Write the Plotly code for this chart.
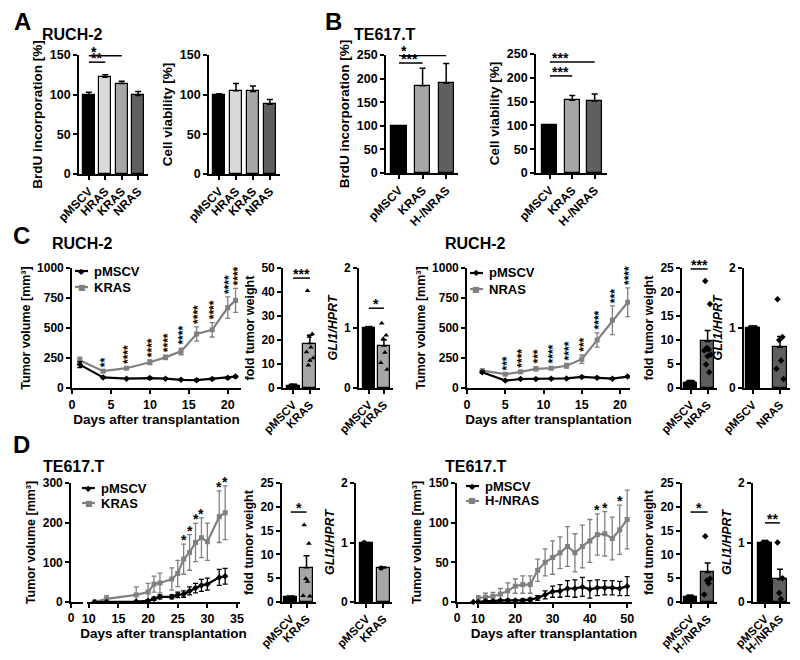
import plotly.graph_objects as go

FONT = "Arial, Liberation Sans, Helvetica, sans-serif"
W, H = 800, 660

# ---------------- data ----------------
ruch_cats = ["pMSCV", "HRAS", "KRAS", "NRAS"]
a_brdu = [100, 122, 114, 99]
a_brdu_err = [3, 3, 3, 5]
a_via = [100, 105, 104, 88]
a_via_err = [1, 9, 7, 6]

te_cats = ["pMSCV", "KRAS", "H-/NRAS"]
b_brdu = [100, 185, 190]
b_brdu_err = [0, 37, 42]
b_via = [100, 153, 151]
b_via_err = [0, 10, 15]

# C: RUCH-2 KRAS
ck_days = [1, 4, 7, 10, 12, 14, 16, 18, 20, 21]
ck_pmscv = [195, 88, 78, 83, 78, 68, 65, 75, 85, 95]
ck_pmscv_err = [25, 8, 6, 8, 6, 5, 8, 8, 8, 8]
ck_kras = [232, 140, 165, 215, 255, 305, 450, 485, 670, 730]
ck_kras_err = [25, 10, 10, 20, 18, 28, 60, 60, 90, 100]
ck_stars = ["", "**", "****", "****", "****", "****", "****", "****", "****", "****"]
ck_cats = ["pMSCV", "KRAS"]
ck_weight = [1.0, 18.5]
ck_weight_err = [0.1, 3.5]
ck_weight_pts = [40.5, 22.5, 21.5, 17, 15, 12.5, 11.5, 9.5]
ck_gli = [1.0, 0.70]
ck_gli_err = [0.01, 0.10]
ck_gli_pts = [1.08, 0.88, 0.82, 0.59, 0.42, 0.31]

# C: RUCH-2 NRAS
cn_days = [2, 5, 7, 9, 11, 13, 15, 17, 19, 21]
cn_pmscv = [132, 62, 75, 75, 78, 80, 92, 85, 78, 95]
cn_pmscv_err = [8, 5, 5, 5, 5, 5, 6, 6, 6, 6]
cn_nras = [145, 115, 135, 160, 165, 185, 240, 400, 565, 715]
cn_nras_err = [8, 8, 10, 18, 12, 20, 35, 60, 120, 120]
cn_stars = ["", "***", "****", "***", "****", "****", "***", "****", "***", "****"]
cn_cats = ["pMSCV", "NRAS"]
cn_weight = [1.1, 9.7]
cn_weight_err = [0.1, 2.3]
cn_weight_pts = [22.3, 17.5, 8.4, 8.0, 7.8, 7.0, 6.6, 4.9, 3.3]
cn_gli = [1.0, 0.68]
cn_gli_err = [0.01, 0.18]
cn_gli_pts = [1.48, 0.85, 0.80, 0.46, 0.32, 0.15]

# D: TE617.T KRAS
dk_days = [11, 13, 18, 20, 21, 22, 24, 25, 26, 27, 28, 29, 30, 32, 33]
dk_pmscv = [0, 0, 1, 3, 8, 13, 13, 18, 20, 28, 35, 42, 45, 62, 65]
dk_pmscv_err = [0, 0, 1, 3, 4, 5, 5, 7, 8, 10, 12, 15, 15, 20, 20]
dk_kras = [0, 8, 18, 25, 45, 48, 58, 72, 108, 125, 150, 162, 152, 215, 225]
dk_kras_err = [0, 8, 20, 22, 20, 25, 28, 33, 38, 45, 48, 50, 47, 65, 68]
dk_stars = ["", "", "", "", "", "", "", "", "*", "*", "*", "*", "", "*", "*"]
dk_cats = ["pMSCV", "KRAS"]
dk_weight = [1.0, 7.2]
dk_weight_err = [0.1, 2.5]
dk_weight_pts = [16.2, 12.3, 4.9, 4.3, 1.3, 1.2]
dk_gli = [1.0, 0.57]
dk_gli_err = [0.0, 0.02]
dk_gli_pts = [0.57]

# D: TE617.T H-/NRAS
dn_stub_days = [8]
dn_stub_pmscv = [0]
dn_days = [10, 12, 14, 16, 18, 20, 22, 24, 26, 28, 30, 32, 34, 36, 38, 40, 42, 44, 46, 48, 50]
dn_pmscv = [0, 1, 1, 2, 2, 2, 2, 3, 5, 9, 13, 14, 17, 17, 19, 16, 18, 18, 18, 17, 20]
dn_pmscv_err = [0, 1, 1, 1, 1, 1, 2, 2, 3, 5, 7, 8, 10, 11, 12, 11, 10, 9, 9, 9, 12]
dn_nras = [5, 6, 7, 10, 14, 20, 22, 22, 40, 50, 56, 62, 70, 62, 70, 77, 85, 86, 80, 91, 104]
dn_nras_err = [3, 5, 5, 7, 10, 9, 11, 11, 14, 17, 21, 20, 25, 24, 27, 27, 26, 28, 27, 31, 37]
dn_stars = [""] * 16 + ["*", "*", "", "*", ""]
dn_cats = ["pMSCV", "H-/NRAS"]
dn_weight = [1.0, 6.2]
dn_weight_err = [0.1, 2.0]
dn_weight_pts = [13.8, 4.9, 4.5, 3.9, 1.6]
dn_gli = [1.0, 0.38]
dn_gli_err = [0.0, 0.17]
dn_gli_pts = [1.0, 0.40, 0.15, 0.05]

BLACK = "#000000"
LIGHT = "#d9d9d9"
MID = "#a6a6a6"
DARK = "#5f5f5f"
LINEGRAY = "#808080"

fig = go.Figure()


def sid(n):
    return "" if n == 1 else str(n)


def tfont(size=11.5, **kw):
    return dict(family=FONT, size=size, color="black", weight="bold", **kw)


AX = dict(showline=True, linecolor="black", linewidth=1.6, ticks="outside", ticklen=4,
          tickwidth=1.6, tickcolor="black", showgrid=False, zeroline=False, fixedrange=True,
          automargin=False)


def set_axes(n, xpx, ypx, xr, yr, ytick, xtick=None, xtext=None, xangle=0, ytitle=None,
             xtitle=None, yanchor=None, tsize=11.5, xsize=11.5, ysize=12.5, ystand=4):
    s = sid(n)
    xa = dict(AX, domain=[xpx[0] / W, xpx[1] / W], range=xr, anchor="y" + s,
              tickangle=xangle, tickfont=tfont(xsize))
    if xtick is not None:
        xa.update(tickvals=xtick)
    if xtext is not None:
        xa.update(ticktext=xtext)
    if xtitle:
        xa.update(title=dict(text=xtitle, font=tfont(13.5), standoff=2))
    ya = dict(AX, domain=[1 - ypx[1] / H, 1 - ypx[0] / H], range=yr, tickvals=ytick,
              anchor=yanchor or ("x" + s), tickfont=tfont(tsize))
    if ytitle:
        ya.update(title=dict(text=ytitle, font=tfont(ysize), standoff=ystand))
    fig.update_layout({"xaxis" + s: xa, "yaxis" + s: ya})


def stub_axis(n, main, xpx, xr):
    fig.update_layout({"xaxis" + sid(n): dict(AX, domain=[xpx[0] / W, xpx[1] / W], range=xr,
                                              anchor="y" + sid(main), tickvals=[0],
                                              tickfont=tfont(12))})


def bar_panel(n, cats, vals, errs, colors, width, pts=None, symbol="triangle-up", ctrl=False):
    s = sid(n)
    xs = list(range(len(cats)))
    fig.add_trace(go.Bar(x=xs, y=vals, width=width,
                         marker=dict(color=colors, line=dict(color="black", width=1.2)),
                         error_y=dict(type="data", symmetric=False, array=errs,
                                      arrayminus=[0] * len(errs), color="black",
                                      thickness=1.5, width=3),
                         xaxis="x" + s, yaxis="y" + s, showlegend=False, hoverinfo="skip"))
    if pts:
        spread = [-0.14, 0.14, -0.04, 0.06, -0.2, 0.2, 0.0, -0.09, 0.1]
        px_ = [1 + spread[k % len(spread)] * width * 1.3 for k in range(len(pts))]
        fig.add_trace(go.Scatter(x=px_, y=pts, mode="markers",
                                 marker=dict(symbol=symbol, size=5, color="black"),
                                 xaxis="x" + s, yaxis="y" + s, showlegend=False,
                                 hoverinfo="skip"))
        if ctrl:
            cx = [spread[k % len(spread)] * width * 1.2 for k in range(len(pts))]
            fig.add_trace(go.Scatter(x=cx, y=[vals[0]] * len(pts), mode="markers",
                                     marker=dict(symbol=symbol, size=5, color="black"),
                                     xaxis="x" + s, yaxis="y" + s, showlegend=False,
                                     hoverinfo="skip"))


def sig(n, i0, i1, level, text, align="center", size=14):
    s = sid(n)
    fig.add_shape(type="line", xref="x" + s, yref="y" + s, x0=i0, x1=i1, y0=level, y1=level,
                  line=dict(color="black", width=1.5))
    if align == "left":
        fig.add_annotation(x=i0, y=level, xref="x" + s, yref="y" + s, text=text,
                           showarrow=False, xanchor="left", yanchor="bottom", yshift=-6,
                           font=tfont(size))
    else:
        fig.add_annotation(x=(i0 + i1) / 2, y=level, xref="x" + s, yref="y" + s, text=text,
                           showarrow=False, xanchor="center", yanchor="bottom", yshift=-6,
                           font=tfont(size))


def line_panel(n, days, series, stars, ref, rotate=True):
    s = sid(n)
    for name, y, e, color, sym in series:
        fig.add_trace(go.Scatter(x=days, y=y, mode="lines+markers", name=name,
                                 line=dict(color=color, width=2.2),
                                 marker=dict(color=color, size=5, symbol=sym),
                                 error_y=dict(type="data", array=e, color=color,
                                              thickness=1.3, width=2.5),
                                 xaxis="x" + s, yaxis="y" + s, showlegend=False,
                                 hoverinfo="skip"))
    y, e = ref
    for d, v, err, st in zip(days, y, e, stars):
        if not st:
            continue
        if rotate:
            fig.add_annotation(x=d, y=v + err, xref="x" + s, yref="y" + s, text=st,
                               textangle=-90, showarrow=False, xanchor="center",
                               yanchor="bottom", yshift=1, xshift=2, font=tfont(12))
        else:
            fig.add_annotation(x=d, y=v + err, xref="x" + s, yref="y" + s, text=st,
                               showarrow=False, xanchor="center", yanchor="bottom",
                               yshift=-6, font=tfont(14))


def legend(xpx, ypx, entries, step=16):
    for k, (name, color, glyph) in enumerate(entries):
        yy = 1 - (ypx + k * step) / H
        fig.add_shape(type="line", xref="paper", yref="paper", x0=xpx / W,
                      x1=(xpx + 13) / W, y0=yy, y1=yy, line=dict(color=color, width=2.2))
        fig.add_annotation(xref="paper", yref="paper", x=(xpx + 6.5) / W, y=yy, text=glyph,
                           showarrow=False, xanchor="center", yanchor="middle",
                           font=dict(family="DejaVu Sans", size=8, color=color))
        fig.add_annotation(xref="paper", yref="paper", x=(xpx + 17) / W, y=yy, text=name,
                           showarrow=False, xanchor="left", yanchor="middle",
                           font=tfont(13))


def label(xpx, ypx, text, size):
    fig.add_annotation(xref="paper", yref="paper", x=xpx / W, y=1 - ypx / H, text=text,
                       showarrow=False, xanchor="left", yanchor="middle", font=tfont(size))


# ---------------- A ----------------
ycol_a = [BLACK, LIGHT, MID, DARK]
set_axes(1, (79, 148), (55, 174), [-0.6, 3.6], [0, 150], [0, 50, 100, 150],
         xtick=[0, 1, 2, 3], xtext=ruch_cats, xangle=-45, ytitle="BrdU incorporation [%]",
         tsize=12.5, xsize=12, ysize=13.5)
bar_panel(1, ruch_cats, a_brdu, a_brdu_err, ycol_a, 0.72)
sig(1, 0, 2, 149, "*", align="left")
sig(1, 0, 1, 141, "**", align="left")

set_axes(2, (209, 280), (55, 174), [-0.6, 3.6], [0, 150], [0, 50, 100, 150],
         xtick=[0, 1, 2, 3], xtext=ruch_cats, xangle=-45, ytitle="Cell viability [%]",
         tsize=12.5, xsize=12, ysize=13.5)
bar_panel(2, ruch_cats, a_via, a_via_err, ycol_a, 0.72)

# ---------------- B ----------------
ycol_b = [BLACK, MID, DARK]
set_axes(3, (386, 458), (55, 173), [-0.55, 2.5], [0, 250], [0, 50, 100, 150, 200, 250],
         xtick=[0, 1, 2], xtext=te_cats, xangle=-45, ytitle="BrdU incorporation [%]",
         tsize=12.5, xsize=12, ysize=13.5)
bar_panel(3, te_cats, b_brdu, b_brdu_err, ycol_b, 0.64)
sig(3, 0, 2, 249, "*", align="left")
sig(3, 0, 1, 233, "***", align="left")

set_axes(4, (536, 607), (54, 173), [-0.62, 2.55], [0, 250], [0, 50, 100, 150, 200, 250],
         xtick=[0, 1, 2], xtext=te_cats, xangle=-45, ytitle="Cell viability [%]",
         tsize=12.5, xsize=12, ysize=13.5)
bar_panel(4, te_cats, b_via, b_via_err, ycol_b, 0.67)
sig(4, 0, 2, 233, "***", align="left")
sig(4, 0, 1, 204, "***", align="left")

# ---------------- C left ----------------
set_axes(5, (72, 241), (268, 388), [0, 21.7], [0, 1000], [0, 250, 500, 750, 1000],
         xtick=[0, 5, 10, 15, 20], ytitle="Tumor volume [mm³]",
         xtitle="Days after transplantation", tsize=12, xsize=12.5)
line_panel(5, ck_days, [("KRAS", ck_kras, ck_kras_err, LINEGRAY, "square"),
                        ("pMSCV", ck_pmscv, ck_pmscv_err, BLACK, "diamond")],
           ck_stars, (ck_kras, ck_kras_err))
legend(75, 271, [("pMSCV", BLACK, "◆"), ("KRAS", LINEGRAY, "■")])

set_axes(6, (283, 320), (268, 388), [-0.6, 1.6], [0, 50], [0, 10, 20, 30, 40, 50],
         xtick=[0, 1], xtext=ck_cats, xangle=-45, ytitle="fold tumor weight", tsize=12)
bar_panel(6, ck_cats, ck_weight, ck_weight_err, [BLACK, MID], 0.77, ck_weight_pts,
          "triangle-up", ctrl=True)
sig(6, 0, 1, 45.8, "***")

set_axes(7, (359, 393), (268, 388), [-0.65, 1.6], [0, 2], [0, 1, 2],
         xtick=[0, 1], xtext=ck_cats, xangle=-45, ytitle="<i>GLI1/HPRT</i>", tsize=12)
bar_panel(7, ck_cats, ck_gli, ck_gli_err, [BLACK, MID], 0.8, ck_gli_pts, "triangle-up",
          ctrl=True)
sig(7, 0, 1, 1.33, "*")

# ---------------- C right ----------------
set_axes(8, (467, 630), (268, 388), [0, 21.3], [0, 1000], [0, 250, 500, 750, 1000],
         xtick=[0, 5, 10, 15, 20], ytitle="Tumor volume [mm³]",
         xtitle="Days after transplantation", tsize=12, xsize=12.5)
line_panel(8, cn_days, [("NRAS", cn_nras, cn_nras_err, LINEGRAY, "square"),
                        ("pMSCV", cn_pmscv, cn_pmscv_err, BLACK, "diamond")],
           cn_stars, (cn_nras, cn_nras_err))
legend(470, 273, [("pMSCV", BLACK, "◆"), ("NRAS", LINEGRAY, "■")])

set_axes(9, (682, 717), (268, 388), [-0.5, 1.55], [0, 25], [0, 5, 10, 15, 20, 25],
         xtick=[0, 1], xtext=cn_cats, xangle=-45, ytitle="fold tumor weight", tsize=12)
bar_panel(9, cn_cats, cn_weight, cn_weight_err, [BLACK, DARK], 0.76, cn_weight_pts,
          "diamond", ctrl=True)
sig(9, 0, 1, 24.8, "***")

set_axes(10, (744, 790), (268, 388), [-0.33, 1.37], [0, 2], [0, 1, 2],
         xtick=[0, 1], xtext=cn_cats, xangle=-45, ytitle="<i>GLI1/HPRT</i>", tsize=12)
bar_panel(10, cn_cats, cn_gli, cn_gli_err, [BLACK, DARK], 0.5, cn_gli_pts, "diamond",
          ctrl=True)

# ---------------- D left ----------------
set_axes(11, (87, 240), (483, 602), [9.7, 35.5], [0, 300], [0, 100, 200, 300],
         xtick=[10, 15, 20, 25, 30, 35], ytitle="Tumor volume [mm³]",
         xtitle="Days after transplantation", yanchor="x12", tsize=12, xsize=12.5)
stub_axis(12, 11, (71, 83), [0, 2])
fig.add_trace(go.Scatter(x=[None], y=[None], xaxis="x12", yaxis="y11", showlegend=False))
line_panel(11, dk_days, [("KRAS", dk_kras, dk_kras_err, LINEGRAY, "square"),
                         ("pMSCV", dk_pmscv, dk_pmscv_err, BLACK, "diamond")],
           dk_stars, (dk_kras, dk_kras_err), rotate=False)
legend(82, 488, [("pMSCV", BLACK, "◆"), ("KRAS", LINEGRAY, "■")], step=15)

set_axes(13, (282, 316), (483, 602), [-0.55, 1.6], [0, 25], [0, 5, 10, 15, 20, 25],
         xtick=[0, 1], xtext=dk_cats, xangle=-45, ytitle="fold tumor weight", tsize=12)
bar_panel(13, dk_cats, dk_weight, dk_weight_err, [BLACK, MID], 0.82, dk_weight_pts,
          "triangle-up", ctrl=True)
sig(13, 0, 1, 18.9, "*")

set_axes(14, (356, 392), (483, 602), [-0.6, 1.5], [0, 2], [0, 1, 2],
         xtick=[0, 1], xtext=dk_cats, xangle=-45, ytitle="<i>GLI1/HPRT</i>", tsize=12)
bar_panel(14, dk_cats, dk_gli, dk_gli_err, [BLACK, MID], 0.73, dk_gli_pts, "circle",
          ctrl=True)

# ---------------- D right ----------------
set_axes(15, (476, 632), (483, 602), [9.46, 51.3], [0, 150], [0, 50, 100, 150],
         xtick=[10, 20, 30, 40, 50], ytitle="Tumor volume [mm³]",
         xtitle="Days after transplantation", yanchor="x16", tsize=12, xsize=12.5)
stub_axis(16, 15, (457, 475), [0, 8.8])
fig.add_trace(go.Scatter(x=dn_stub_days, y=dn_stub_pmscv, mode="markers",
                         marker=dict(color=BLACK, size=5, symbol="diamond"),
                         xaxis="x16", yaxis="y15", showlegend=False, cliponaxis=False))
line_panel(15, dn_days, [("H-/NRAS", dn_nras, dn_nras_err, LINEGRAY, "square"),
                         ("pMSCV", dn_pmscv, dn_pmscv_err, BLACK, "diamond")],
           dn_stars, (dn_nras, dn_nras_err), rotate=False)
legend(466, 486, [("pMSCV", BLACK, "◆"), ("H-/NRAS", LINEGRAY, "■")], step=15)

set_axes(17, (682, 717), (483, 602), [-0.5, 1.55], [0, 25], [0, 5, 10, 15, 20, 25],
         xtick=[0, 1], xtext=dn_cats, xangle=-45, ytitle="fold tumor weight", tsize=12)
bar_panel(17, dn_cats, dn_weight, dn_weight_err, [BLACK, DARK], 0.76, dn_weight_pts,
          "diamond", ctrl=True)
sig(17, 0, 1, 18.9, "*")

set_axes(18, (753, 790), (483, 602), [-0.8, 1.67], [0, 2], [0, 1, 2],
         xtick=[0, 1], xtext=dn_cats, xangle=-45, ytitle="<i>GLI1/HPRT</i>", tsize=12)
bar_panel(18, dn_cats, dn_gli, dn_gli_err, [BLACK, DARK], 0.9, dn_gli_pts, "diamond",
          ctrl=True)
sig(18, 0, 1, 1.33, "**")

# ---------------- panel labels ----------------
label(12, 21, "A", 24)
label(40, 34, "RUCH-2", 16)
label(323, 21, "B", 24)
label(352, 34, "TE617.T", 16)
label(11, 235, "C", 24)
label(50, 243, "RUCH-2", 16)
label(443, 243, "RUCH-2", 16)
label(11, 444, "D", 24)
label(41, 466, "TE617.T", 16)
label(443, 466, "TE617.T", 16)

fig.update_layout(width=W, height=H, margin=dict(l=0, r=0, t=0, b=0),
                  plot_bgcolor="white", paper_bgcolor="white",
                  font=dict(family=FONT, color="black"), bargap=0, showlegend=False)

# the page body has a default 8px margin; drop it so the figure sits at the window origin
fig.write_html("out.html", config={"displayModeBar": False},
               post_script="document.body.style.margin='0';document.body.style.overflow='hidden';")
